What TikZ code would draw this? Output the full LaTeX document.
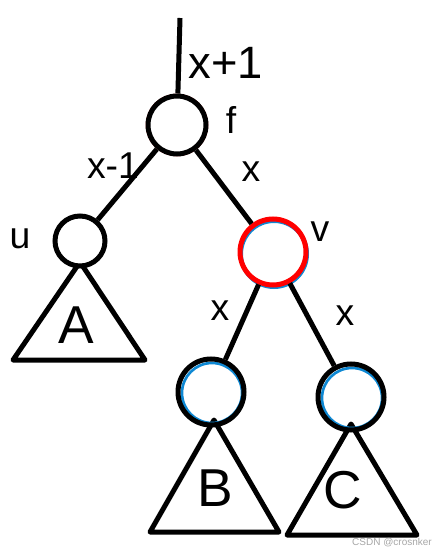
\documentclass[tikz,border=0pt]{standalone}
\usepackage{fontspec}
\setmainfont{Liberation Sans}
\begin{document}
\begin{tikzpicture}[x=0.75pt,y=-0.75pt,
  edge/.style={line width=3.75pt},
  tnode/.style={circle,draw,line width=3.75pt,inner sep=0pt,fill=white},
  tri/.style={line width=3.75pt,line join=round},
  lbl/.style={font=\fontsize{28}{30}\selectfont,inner sep=0pt},
  big/.style={font=\fontsize{40}{44}\selectfont,inner sep=0pt}]
\useasboundingbox (0,0) rectangle (433,555);
% triangles (drawn first so circles sit on top)
\coordinate (Aa) at (80,262); \coordinate (Al) at (13,360); \coordinate (Ar) at (145,360);
\draw[tri] (Aa) -- (Al) -- (Ar) -- cycle;
\coordinate (Ba) at (214,420); \coordinate (Bl) at (150,532); \coordinate (Br) at (279,532);
\draw[tri] (Ba) -- (Bl) -- (Br) -- cycle;
\coordinate (Ca) at (351,424); \coordinate (Cl) at (287,535); \coordinate (Cr) at (417,535);
\draw[tri] (Ca) -- (Cl) -- (Cr) -- cycle;
% colored under-strokes
\draw[red,line width=1pt] (177,125) circle[radius=30.5];
\draw[cyan!70!blue,line width=3pt] (274,254) circle[radius=33];
\draw[cyan!70!blue,line width=2pt] (212,393) circle[radius=30];
\draw[cyan!70!blue,line width=2pt] (352,398) circle[radius=30];
% nodes
\node[tnode,minimum size=43.5pt] (root) at (177,125) {};
\node[tnode,minimum size=37.5pt] (u) at (80,241) {};
\node[tnode,draw=red,minimum size=49.5pt,fill=none] (v) at (273,252) {};
\node[tnode,minimum size=49.5pt,fill=none] (b) at (211,392) {};
\node[tnode,minimum size=49.5pt,fill=none] (c) at (351,397) {};
% edges
\coordinate (top) at (180,18);
\draw[edge] (top) -- (root);
\draw[edge] (root) -- (u);
\draw[edge] (root) -- (v);
\draw[edge] (v) -- (b);
\draw[edge] (v) -- (c);
% labels
\node[lbl,font=\fontsize{34}{36}\selectfont] (lx1) at (226,63) {x+1};
\node[lbl] (lf) at (231,120) {f};
\node[lbl] (lxm) at (113,166) {x-1};
\node[lbl] (lxr) at (251,172) {x};
\node[lbl] (lu) at (20,239) {u};
\node[lbl] (lv) at (320,232) {v};
\node[lbl] (lxb) at (220,311) {x};
\node[lbl] (lxc) at (345,316) {x};
\node[big] (la) at (76,325) {A};
\node[big] (lb) at (215,488) {B};
\node[big] (lc) at (343,490) {C};
\node[font=\fontsize{7.5}{9}\selectfont,text=gray!70] (wm) at (392,543) {CSDN @crosnker};
\end{tikzpicture}
\end{document}
